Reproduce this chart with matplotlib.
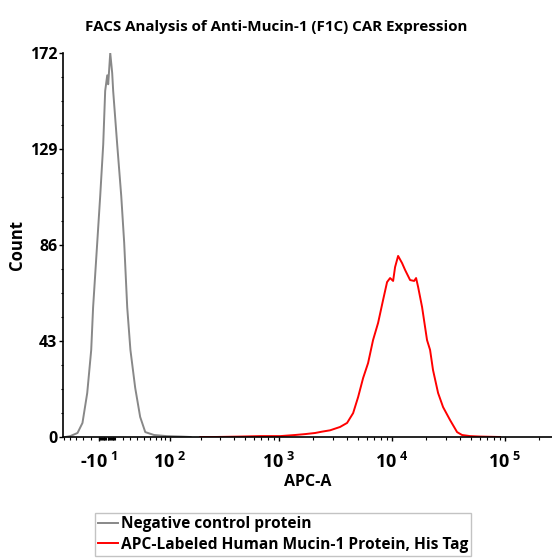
import numpy as np
import matplotlib
matplotlib.use('Agg')
import matplotlib.pyplot as plt
from matplotlib.ticker import FixedLocator

plt.rcParams['font.family'] = ['Open Sans', 'DejaVu Sans']
plt.rcParams['font.weight'] = 'bold'
plt.rcParams['mathtext.fontset'] = 'custom'
plt.rcParams['mathtext.rm'] = 'Open Sans:bold'
plt.rcParams['mathtext.bf'] = 'Open Sans:bold'
plt.rcParams['mathtext.it'] = 'Open Sans:bold'

# negative control (APC-A value, count)
neg_x = [-57, -49, -38, -31, -24.6, -19.4, -17, -11.8, -8.1, -4.4, -2.0, 0.5, 1.7,
         4.2, 6.6, 7.8, 12.8, 17.9, 21.7, 25.7, 30, 36.7, 44, 52, 67, 93, 130, 160]
neg_y = [0, 0.4, 1.8, 6.3, 19.7, 39, 58, 87, 108, 131, 155, 162, 158,
         172, 163, 155, 131, 108, 87, 58, 39, 22, 9, 2.2, 0.9, 0.4, 0.2, 0]

# APC-Labeled Human Mucin-1 Protein
pos_x = [197, 270, 455, 684, 1028, 1394, 1710, 2096, 2415, 2844, 3486, 4020, 4548,
         5036, 5574, 6168, 6826, 7566, 8378, 9086, 9663, 10277, 10696, 11379,
         12335, 13124, 14527, 15781, 16416, 17107, 18545, 20519, 21833, 23181,
         25710, 28453, 32800, 37860, 41880, 49320, 60400, 90800]
pos_y = [0, 0, 0.2, 0.4, 0.4, 0.9, 1.3, 1.8, 2.4, 3.0, 4.5, 6.3, 10.7,
         17.9, 26.4, 33.1, 43.4, 51.1, 61.4, 69.4, 71.2, 69.9, 76.1, 81.1,
         77.9, 74.8, 70.3, 69.9, 71.2, 67.2, 58.2, 43.4, 39.0, 30.0,
         19.7, 13.4, 7.6, 2.2, 0.9, 0.4, 0.2, 0]

xticks = [-10, 100, 1000, 10000, 100000]
xticklabels = [r'-$\mathbf{10^{\ 1}}$', r'$\mathbf{10^{\ 2}}$', r'$\mathbf{10^{\ 3}}$',
               r'$\mathbf{10^{\ 4}}$', r'$\mathbf{10^{\ 5}}$']
yticks = [0, 43, 86, 129, 172]

W = 60.0


def fwd(x):
    return np.arcsinh(np.asarray(x, dtype=float) / W) / np.log(10)


def inv(u):
    return W * np.sinh(np.asarray(u, dtype=float) * np.log(10))


fig = plt.figure(figsize=(5.52, 5.59), dpi=100)
ax = fig.add_axes([63 / 552, 122 / 559, 489 / 552, 384 / 559])

ax.plot(neg_x, neg_y, color='#888888', lw=1.4, label='Negative control protein')
ax.plot(pos_x, pos_y, color='#ff0000', lw=1.4,
        label='APC-Labeled Human Mucin-1 Protein, His Tag')

ax.set_xscale('function', functions=(fwd, inv))
ax.set_xlim(-61, 262144)
ax.set_ylim(0, 172)

ax.set_xticks(xticks)
ax.set_xticklabels(xticklabels, fontsize=13)
minor = []
for k in range(0, 6):
    for m in range(1, 10):
        v = m * 10 ** k
        if v not in xticks:
            minor.append(v)
        if -v > -61 and -v not in xticks:
            minor.append(-v)
ax.xaxis.set_minor_locator(FixedLocator(sorted(minor)))
ax.tick_params(axis='x', which='major', length=3, width=1, pad=8)
ax.tick_params(axis='x', which='minor', length=2.5, width=0.8)

ax.set_yticks(yticks)
ax.set_yticklabels([str(t) for t in yticks], fontsize=11.5)
ax.yaxis.set_minor_locator(FixedLocator(np.arange(0, 173, 43 / 4)))
ax.tick_params(axis='y', which='major', length=3, width=1, pad=1)
ax.tick_params(axis='y', which='minor', length=1.5, width=0.8)

for s in ['top', 'right']:
    ax.spines[s].set_visible(False)
for s in ['left', 'bottom']:
    ax.spines[s].set_linewidth(1.2)

ax.set_xlabel('APC-A', fontsize=11.5, fontweight='bold', labelpad=1)
ax.set_ylabel('Count', fontsize=12, fontweight='bold', labelpad=3)
fig.text(0.5, 1 - 27 / 559, 'FACS Analysis of Anti-Mucin-1 (F1C) CAR Expression',
         fontsize=10.9, fontweight='bold', ha='center', va='center')

leg = fig.legend(loc='upper left', bbox_to_anchor=(95 / 552, 46 / 559),
                 fontsize=11.2, frameon=True, fancybox=False, borderaxespad=0,
                 handlelength=1.3, handletextpad=0.15, borderpad=0.2,
                 labelspacing=0.3)
leg.get_frame().set_edgecolor('#b5b5b5')
leg.get_frame().set_linewidth(1.0)
for t in leg.get_texts():
    t.set_fontweight('bold')

fig.savefig('out.png', dpi=100)
